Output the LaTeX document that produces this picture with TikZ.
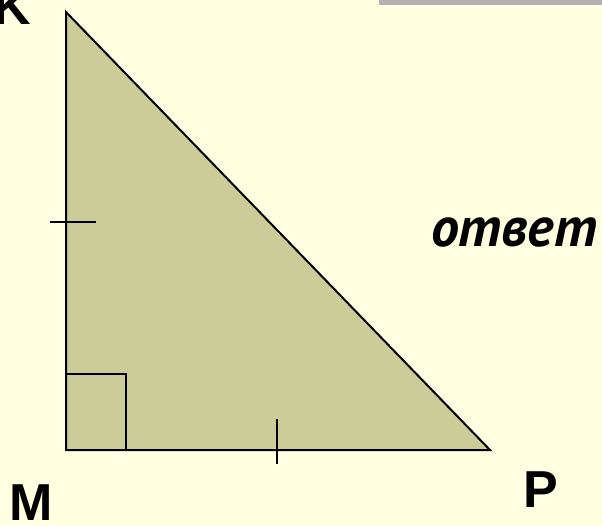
\documentclass[tikz,border=0pt]{standalone}
\usepackage{fontspec}
\setmainfont{Liberation Sans}
\newfontfamily\ruitalic{PT Sans}
\usepackage{xcolor}
\usetikzlibrary{positioning}
\definecolor{paper}{RGB}{255,255,225}
\definecolor{khaki}{RGB}{204,204,153}
\definecolor{bar}{RGB}{178,178,178}

\begin{document}
\begin{tikzpicture}[
  x=1pt,y=-1pt,
  side/.style={draw,line width=2pt,line join=miter},
  hatch/.style={-,line width=2pt},
  lbl/.style={font=\bfseries\fontsize{52}{52}\selectfont,inner sep=0pt}
]
\fill[paper] (0,0) rectangle (602,526);
\useasboundingbox (0,0) rectangle (602,526);
\fill[bar] (379,0) rectangle (602,5);

\coordinate (K) at (66,12);
\coordinate (M) at (66,450);
\coordinate (P) at (490,450);
\filldraw[side,fill=khaki] (K) -- (M) -- (P) -- cycle;

% right angle and equal-side marks
\coordinate (ra) at (126,374);
\draw[hatch] (M |- ra) -- (ra) -- (ra |- M);
\coordinate (t1a) at (50,222);
\coordinate (t1b) at (96,222);
\draw[hatch] (t1a) -- (t1b);
\coordinate (t2a) at (277,419);
\coordinate (t2b) at (277,464);
\draw[hatch] (t2a) -- (t2b);

\node[lbl] (labK) at (12,7) {K};
\node[lbl] (labM) at (31,503) {M};
\node[lbl] (labP) at (541,490) {P};
\node[lbl,font=\ruitalic\bfseries\itshape\fontsize{56}{56}\selectfont,anchor=base west] (answer) at (431,247) {ответ};
\end{tikzpicture}
\end{document}
